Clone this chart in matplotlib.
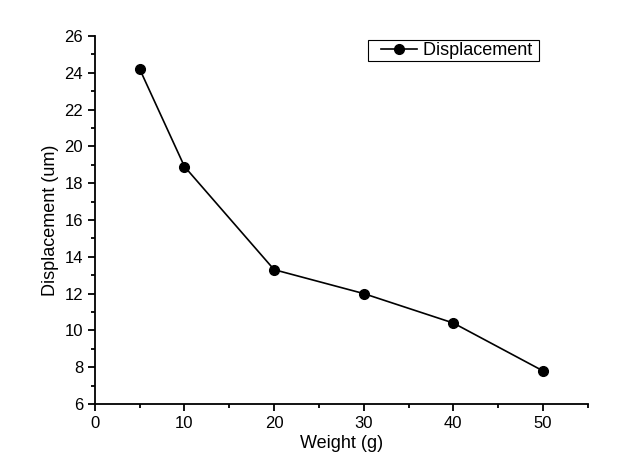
import matplotlib.pyplot as plt
from matplotlib.legend_handler import HandlerLine2D

plt.rcParams['font.family'] = ['Liberation Sans', 'DejaVu Sans']

weight = [5, 10, 20, 30, 40, 50]
displacement = [24.2, 18.9, 13.3, 12.0, 10.4, 7.8]

fig = plt.figure(figsize=(6.24, 4.72), dpi=100)
ax = fig.add_axes([0.152, 0.144, 0.79, 0.78])

line, = ax.plot(weight, displacement, color='black', marker='o', markersize=7,
                linewidth=1.2, label='Displacement ')

ax.set_xlim(0, 55)
ax.set_ylim(6, 26)
ax.set_xticks(range(0, 51, 10))
ax.set_xticks(range(5, 56, 10), minor=True)
ax.set_yticks(range(6, 27, 2))
ax.set_yticks(range(7, 26, 2), minor=True)

ax.spines['top'].set_visible(False)
ax.spines['right'].set_visible(False)
for s in ('left', 'bottom'):
    ax.spines[s].set_linewidth(1.3)
ax.tick_params(which='major', direction='out', length=5, width=1.3, labelsize=12)
ax.tick_params(which='minor', direction='out', length=3, width=1.3)

ax.set_xlabel('Weight (g)', fontsize=13, labelpad=3)
ax.set_ylabel('Displacement (um)', fontsize=13, labelpad=4)

# push the legend line away from the left border, keep the box tight vertically
leg = ax.legend(loc='upper left', bbox_to_anchor=(0.59, 0.915),
                bbox_transform=fig.transFigure, fancybox=False,
                edgecolor='black', fontsize=13, handlelength=2.6,
                handletextpad=0.3, borderpad=0.12, borderaxespad=0,
                framealpha=1, handler_map={line: HandlerLine2D(xpad=0.6)})
leg.get_frame().set_linewidth(0.8)

fig.savefig('out.png', dpi=100)
